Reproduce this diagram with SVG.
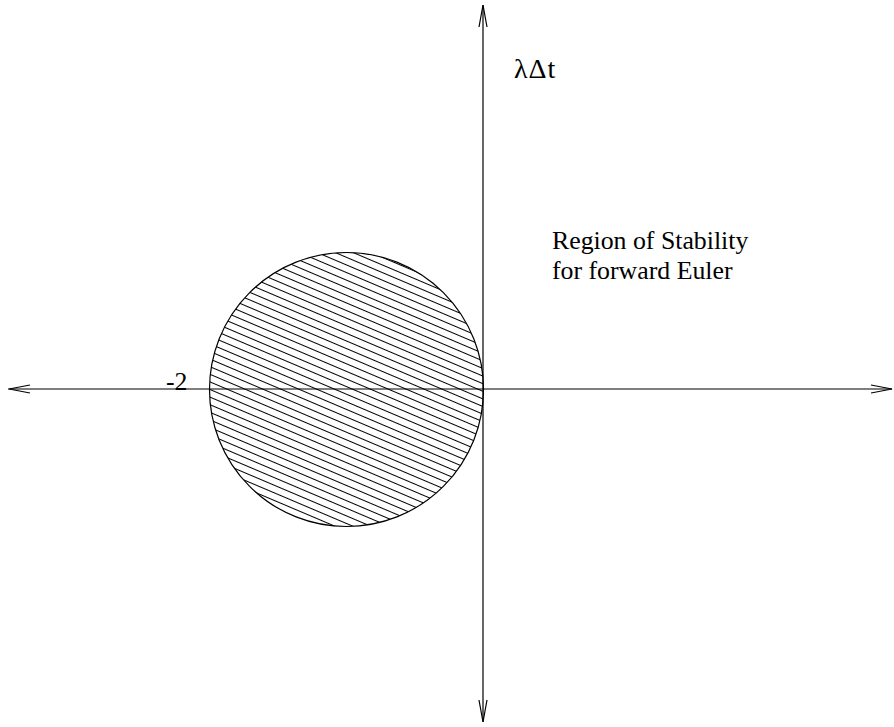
<svg xmlns="http://www.w3.org/2000/svg" width="894" height="727" viewBox="0 0 894 727">
<style>
.ax{stroke:#000;stroke-width:1.2;fill:none}
.t{font-family:"Liberation Serif","Times New Roman",serif;font-size:25.8px;fill:#000}
</style>
<defs>
<pattern id="hatch" patternUnits="userSpaceOnUse" width="20" height="7" patternTransform="rotate(23)">
<line x1="-5" y1="3.5" x2="25" y2="3.5" stroke="#000" stroke-width="1"/>
</pattern>
</defs>
<rect width="894" height="727" fill="#fff"/>
<g id="region">
<circle cx="346.5" cy="389.5" r="137" fill="url(#hatch)" stroke="#000" stroke-width="1.2"/>
</g>
<g id="connectors">
<line class="ax" x1="8" y1="389" x2="892" y2="389"/>
<polyline class="ax" points="30,385 9,389 30,393"/>
<polyline class="ax" points="871,385 892,389 871,393"/>
<line class="ax" x1="483" y1="5" x2="483" y2="722"/>
<polyline class="ax" points="479,27 483,5 487,27"/>
<polyline class="ax" points="479,700 483,722 487,700"/>
</g>
<g id="labels">
<text class="t" x="514" y="78" style="font-size:28px;letter-spacing:1px">λΔt</text>
<text class="t" x="552" y="249">Region of Stability</text>
<text class="t" x="552" y="279">for forward Euler</text>
<text class="t" x="166" y="390">-2</text>
</g>
</svg>
